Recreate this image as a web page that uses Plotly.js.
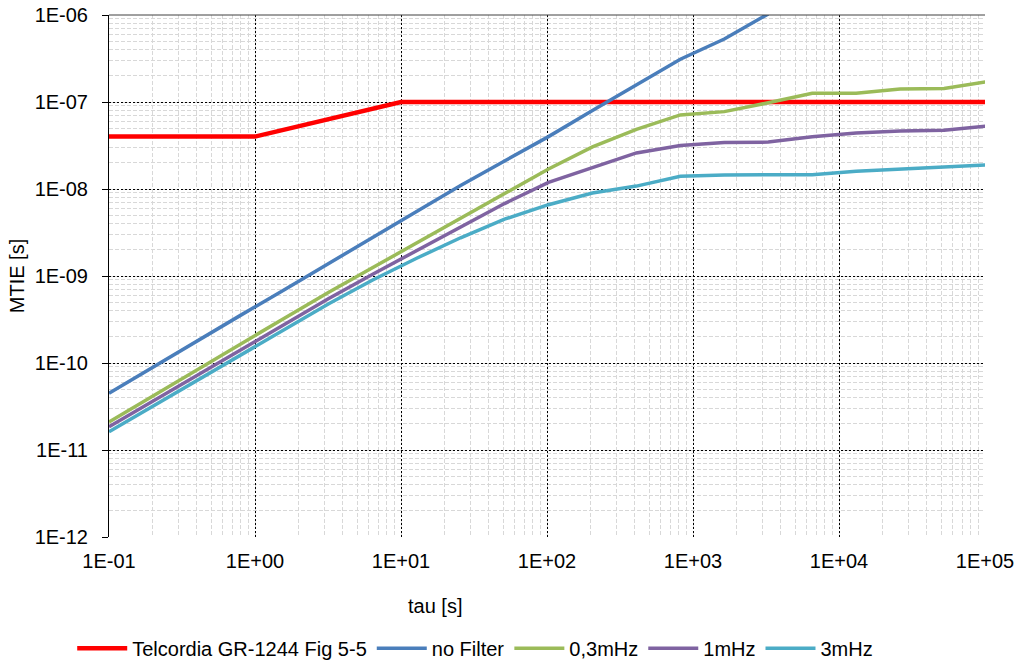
<!DOCTYPE html>
<html>
<head>
<meta charset="utf-8">
<script src="https://cdn.plot.ly/plotly-3.0.1.min.js"></script>
<style>html,body{margin:0;padding:0;background:#fff;}#chart{width:1018px;height:666px;}</style>
</head>
<body>
<div id="chart"></div>
<script>
// tau values [s]
const tau = [0.1, 0.2, 0.4, 0.8, 1.6, 3.2, 6.4, 12.8, 25.6, 51.2, 102.4, 204.8, 409.6, 819.2, 1638.4, 3276.8, 6553.6, 13107.2, 26214.4, 52428.8, 104857.6];
const tauBlue = [0.1, 0.2, 0.4, 0.8, 1.6, 3.2, 6.4, 12.8, 25.6, 51.2, 102.4, 204.8, 409.6, 819.2, 1638.4, 3276.8];

// Telcordia mask
const maskTau = [0.1, 1, 10, 100000];
const maskMtie = [4e-8, 4e-8, 1e-7, 1e-7];

// MTIE values [s]
const noFilter = [4.5e-11, 9.0e-11, 1.8e-10, 3.55e-10, 7.0e-10, 1.4e-9, 2.8e-9, 5.5e-9, 1.1e-8, 2.1e-8, 4.0e-8, 8.0e-8, 1.58e-7, 3.1e-7, 5.3e-7, 1.03e-6];
const f03mHz = [2.1e-11, 4.2e-11, 8.3e-11, 1.65e-10, 3.3e-10, 6.5e-10, 1.25e-9, 2.4e-9, 4.6e-9, 8.9e-9, 1.7e-8, 3.05e-8, 4.85e-8, 7.1e-8, 7.75e-8, 9.8e-8, 1.26e-7, 1.26e-7, 1.41e-7, 1.43e-7, 1.72e-7];
const f1mHz = [1.85e-11, 3.65e-11, 7.2e-11, 1.42e-10, 2.8e-10, 5.5e-10, 1.05e-9, 1.95e-9, 3.7e-9, 6.8e-9, 1.19e-8, 1.77e-8, 2.6e-8, 3.16e-8, 3.43e-8, 3.46e-8, 3.98e-8, 4.4e-8, 4.63e-8, 4.75e-8, 5.3e-8];
const f3mHz = [1.62e-11, 3.2e-11, 6.3e-11, 1.25e-10, 2.45e-10, 4.8e-10, 9.0e-10, 1.6e-9, 2.75e-9, 4.5e-9, 6.6e-9, 9.0e-9, 1.08e-8, 1.40e-8, 1.45e-8, 1.46e-8, 1.46e-8, 1.6e-8, 1.69e-8, 1.78e-8, 1.9e-8];

// tick labels
const xTickVals = [0.1, 1, 10, 100, 1000, 10000, 100000];
const xTickText = ["1E-01", "1E+00", "1E+01", "1E+02", "1E+03", "1E+04", "1E+05"];
const yTickVals = [1e-12, 1e-11, 1e-10, 1e-9, 1e-8, 1e-7, 1e-6];
const yTickText = ["1E-12", "1E-11", "1E-10", "1E-09", "1E-08", "1E-07", "1E-06"];

const names = ["Telcordia GR-1244 Fig 5-5", "no Filter", "0,3mHz", "1mHz", "3mHz"];
const colors = ["#FF0000", "#4A7EBB", "#9BBB59", "#7F63A1", "#4BACC6"];

const traces = [
  {x: maskTau, y: maskMtie, name: names[0], mode: "lines", line: {color: colors[0], width: 4.5}},
  {x: tauBlue, y: noFilter, name: names[1], mode: "lines", line: {color: colors[1], width: 3.5}},
  {x: tau, y: f03mHz, name: names[2], mode: "lines", line: {color: colors[2], width: 3.5}},
  {x: tau, y: f1mHz, name: names[3], mode: "lines", line: {color: colors[3], width: 3.5}},
  {x: tau, y: f3mHz, name: names[4], mode: "lines", line: {color: colors[4], width: 3.5}}
];

const font = {family: "Liberation Sans, Arial, sans-serif", size: 20, color: "#000"};

const layout = {
  width: 1018, height: 666,
  margin: {l: 109, r: 33, t: 15, b: 129, autoexpand: false},
  paper_bgcolor: "#fff", plot_bgcolor: "#fff",
  font: font,
  showlegend: true,
  hovermode: false,
  legend: {orientation: "h", x: -0.042, xanchor: "left", y: -0.213, yanchor: "middle",
           font: font, itemwidth: 50, tracegroupgap: 0},
  xaxis: {
    type: "log", range: [-1, 5],
    tickvals: xTickVals, ticktext: xTickText,
    showgrid: true, gridcolor: "#000", griddash: "2px,2px", gridwidth: 1,
    minor: {dtick: "D1", showgrid: true, gridcolor: "#d8d8d8", griddash: "4px,2px", gridwidth: 1, ticks: ""},
    showline: false, zeroline: false, ticks: "", ticklen: 0,
    ticklabelstandoff: 10,
    tickfont: font
  },
  yaxis: {
    type: "log", range: [-12, -6],
    tickvals: yTickVals, ticktext: yTickText,
    showgrid: true, gridcolor: "#000", griddash: "2px,2px", gridwidth: 1,
    minor: {dtick: "D1", showgrid: true, gridcolor: "#d8d8d8", griddash: "4px,2px", gridwidth: 1, ticks: ""},
    showline: true, linecolor: "#000", linewidth: 1,
    ticks: "outside", ticklen: 6, tickcolor: "#000",
    ticklabelstandoff: 10,
    zeroline: false, tickfont: font,
    title: {text: "MTIE [s]", font: font, standoff: 4}
  },
  shapes: [
    {type: "line", xref: "paper", yref: "paper", x0: 0, x1: 1, y0: 1, y1: 1, line: {color: "#404040", width: 1}}
  ],
  annotations: [
    {text: "tau [s]", xref: "paper", yref: "paper", x: 0.372, y: -0.133, xanchor: "center", yanchor: "middle", showarrow: false, font: font}
  ]
};

Plotly.newPlot("chart", traces, layout, {displayModeBar: false, staticPlot: true});
</script>
</body>
</html>
